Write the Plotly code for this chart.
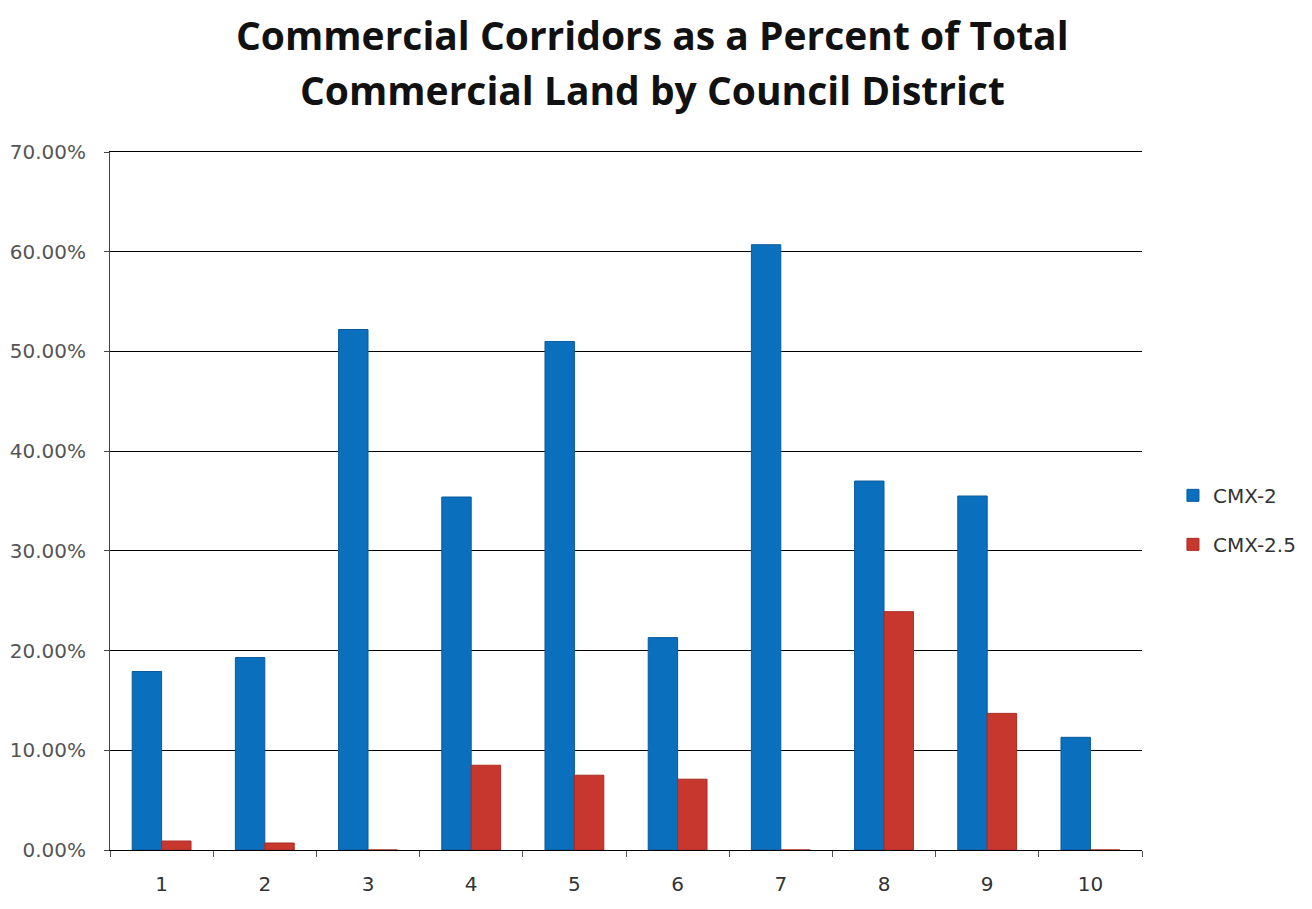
import plotly.graph_objects as go

districts = ["1", "2", "3", "4", "5", "6", "7", "8", "9", "10"]
cmx2 = [17.9, 19.3, 52.2, 35.4, 51.0, 21.3, 60.7, 37.0, 35.5, 11.3]
cmx25 = [0.9, 0.7, 0.0, 8.5, 7.5, 7.1, 0.0, 23.9, 13.7, 0.0]
y_ticks = [0, 10, 20, 30, 40, 50, 60, 70]
y_tick_labels = ["0.00%", "10.00%", "20.00%", "30.00%", "40.00%", "50.00%", "60.00%", "70.00%"]
title_lines = ["Commercial Corridors as a Percent of Total",
               "Commercial Land by Council District"]

fig = go.Figure()
fig.add_trace(go.Bar(name="CMX-2", x=districts, y=cmx2, legendgroup="a",
                     marker=dict(color="#0a6fbd", line=dict(color="#0a5a9c", width=1))))
fig.add_trace(go.Bar(name="CMX-2.5", x=districts, y=cmx25, legendgroup="b",
                     marker=dict(color="#c8372d", line=dict(color="#a82b22", width=1))))

fig.update_layout(
    width=1304, height=901,
    paper_bgcolor="white", plot_bgcolor="white",
    barmode="group", bargap=0.43, bargroupgap=0,
    margin=dict(l=102, r=170, t=144, b=59, autoexpand=False),
    font=dict(family="DejaVu Sans", size=19, color="#444"),
    legend=dict(x=1.03, y=0.473, xanchor="left", yanchor="middle",
                font=dict(family="DejaVu Sans", size=20, color="#333"),
                tracegroupgap=20, itemwidth=30),
    showlegend=True,
    annotations=[
        dict(text="<b>" + title_lines[0] + "</b>", xref="paper", yref="paper",
             x=0.526, y=1.168, xanchor="center", yanchor="middle", showarrow=False,
             font=dict(family="Open Sans", size=39, color="#111")),
        dict(text="<b>" + title_lines[1] + "</b>", xref="paper", yref="paper",
             x=0.526, y=1.089, xanchor="center", yanchor="middle", showarrow=False,
             font=dict(family="Open Sans", size=39, color="#111")),
    ],
)
fig.update_xaxes(showline=True, linecolor="black", linewidth=1, mirror=True,
                 ticks="outside", tickson="boundaries", ticklen=6, tickcolor="#555",
                 showgrid=False, tickfont=dict(size=20, color="#333"),
                 ticklabelstandoff=16, automargin=False)
fig.update_yaxes(range=[0, 70], tickvals=y_ticks, ticktext=y_tick_labels,
                 showline=True, linecolor="#444", linewidth=1,
                 ticks="outside", ticklen=5, tickcolor="#444",
                 showgrid=True, gridcolor="black", gridwidth=1,
                 tickfont=dict(size=20, color="#555"), zeroline=False,
                 ticklabelstandoff=14, automargin=False)

fig.write_html("out.html")
